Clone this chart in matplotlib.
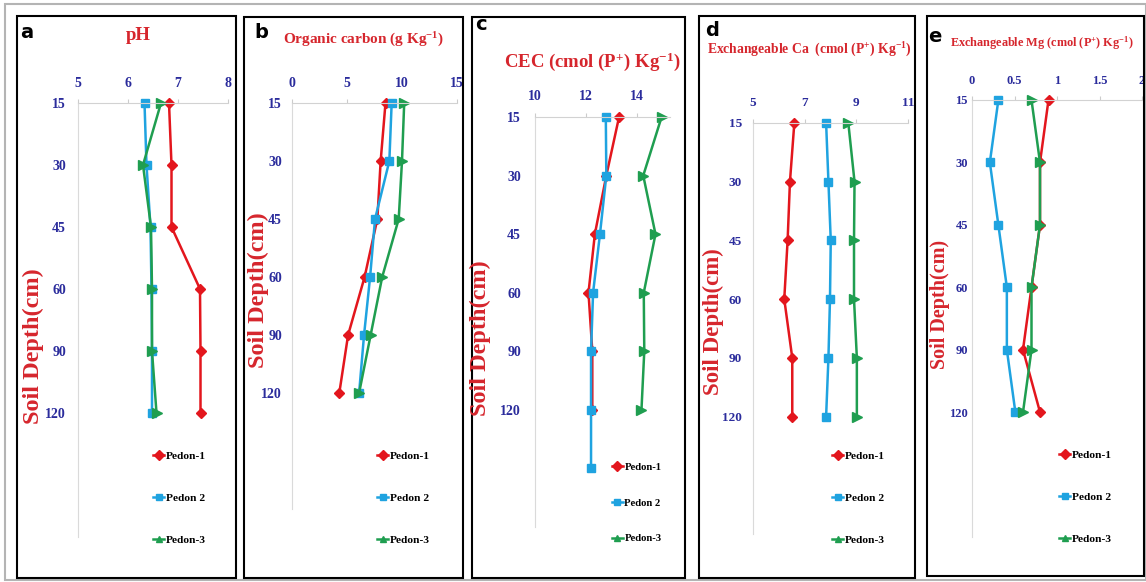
import matplotlib.pyplot as plt
from matplotlib.lines import Line2D
from matplotlib.patches import Rectangle

plt.rcParams['font.family'] = 'Liberation Serif'
plt.rcParams['font.weight'] = 'bold'
plt.rcParams['mathtext.fontset'] = 'custom'
plt.rcParams['mathtext.rm'] = 'Liberation Serif:bold'
plt.rcParams['mathtext.bf'] = 'Liberation Serif:bold'
plt.rcParams['mathtext.it'] = 'Liberation Serif:bold:italic'

# depth categories (cm), shared by all panels
depth_labels = ["15", "30", "45", "60", "90", "120"]
pedon_names = ["Pedon-1", "Pedon 2", "Pedon-3"]

# a: pH
ph_p1 = [6.82, 6.87, 6.87, 7.44, 7.45, 7.45]
ph_p2 = [6.33, 6.37, 6.45, 6.47, 6.48, 6.48]
ph_p3 = [6.66, 6.30, 6.46, 6.48, 6.48, 6.57]

# b: organic carbon (g/kg)
oc_p1 = [8.5, 8.06, 7.76, 6.6, 5.1, 4.3]
oc_p2 = [9.06, 8.85, 7.55, 7.1, 6.55, 6.1]
oc_p3 = [10.2, 10.0, 9.7, 8.2, 7.15, 6.1]

# c: CEC (pedon 2 has one extra point below 120 cm in the source)
cec_p1 = [13.3, 12.8, 12.35, 12.1, 12.25, 12.25]
cec_p2 = [12.78, 12.8, 12.55, 12.28, 12.2, 12.2, 12.2]
cec_p3 = [14.97, 14.25, 14.73, 14.27, 14.29, 14.18]

# d: exchangeable Ca
ca_p1 = [6.6, 6.43, 6.34, 6.21, 6.52, 6.52]
ca_p2 = [7.83, 7.92, 8.01, 7.98, 7.92, 7.83]
ca_p3 = [8.69, 8.93, 8.91, 8.91, 9.02, 9.02]

# e: exchangeable Mg
mg_p1 = [0.90, 0.80, 0.80, 0.70, 0.60, 0.80]
mg_p2 = [0.31, 0.21, 0.31, 0.41, 0.41, 0.51]
mg_p3 = [0.70, 0.80, 0.80, 0.70, 0.70, 0.60]

W, H = 1146, 582
RED = '#e3161d'
BLUE = '#1fa3e0'
GREEN = '#1f9e50'
NAVY = '#2b2c9c'
TITLE_RED = '#d6262d'

styles = [(RED, 'D', 5.5), (BLUE, 's', 6), (GREEN, '>', 7)]
legend_markers = ['D', 's', '^']

fig = plt.figure(figsize=(W / 100, H / 100), dpi=100)


def fx(x):
    return x / W


def fy(y):
    return 1 - y / H


# outer frame and panel boxes
fig.patches.append(Rectangle((fx(5), fy(580)), fx(1141), 576 / H, transform=fig.transFigure,
                             fill=False, ec='#b4b4b4', lw=1.5))
for (x0, y0, x1, y1) in [(17, 16, 236, 578), (244, 17, 463, 578), (472, 17, 685, 578),
                         (699, 16, 915, 578), (927, 16, 1144, 576)]:
    fig.patches.append(Rectangle((fx(x0), fy(y1)), fx(x1 - x0), (y1 - y0) / H,
                                 transform=fig.transFigure, fill=False, ec='black', lw=1.5))

# pads given in pixels, converted to points below
panels = [
    dict(series=[ph_p1, ph_p2, ph_p3], box=(78, 103, 228, 537), xlim=(5, 8),
         xticks=[5, 6, 7, 8], xtl=["5", "6", "7", "8"], fs=10, xpad=12, ypad=12,
         letter='a', lpos=(20, 33), title='pH', tpos=(138, 35), tfs=13.5,
         ylab=(33, 346), yfs=17.5, leg=(153, 498), lsp=2.85, lfs=8.2),
    dict(series=[oc_p1, oc_p2, oc_p3], box=(292, 103, 457, 509), xlim=(0, 15),
         xticks=[0, 5, 10, 15], xtl=["0", "5", "10", "15"], fs=10, xpad=12, ypad=10,
         letter='b', lpos=(254, 33), title='Organic carbon (g Kg$^{-1}$)', tpos=(364, 40), tfs=11,
         ylab=(258, 290), yfs=17.5, leg=(377, 498), lsp=2.85, lfs=8.2),
    dict(series=[cec_p1, cec_p2, cec_p3], box=(535, 117, 670, 527), xlim=(10, 15.3),
         xticks=[10, 12, 14], xtl=["10", "12", "14"], fs=10, xpad=13, ypad=14,
         letter='c', lpos=(475, 25), title='CEC (cmol (P$^{+}$) Kg$^{-1}$)', tpos=(592, 62), tfs=13.5,
         ylab=(480, 338), yfs=17.5, leg=(612, 503), lsp=2.45, lfs=7.7),
    dict(series=[ca_p1, ca_p2, ca_p3], box=(753, 123, 908, 534), xlim=(5, 11),
         xticks=[5, 7, 9, 11], xtl=["5", "7", "9", "11"], fs=9.5, xpad=13, ypad=11,
         letter='d', lpos=(705, 31), title='Exchangeable Ca  (cmol (P$^{+}$) Kg$^{-1}$)', tpos=(809, 50),
         tfs=9.8, ylab=(713, 322), yfs=16.5, leg=(832, 498), lsp=2.85, lfs=8.2),
    dict(series=[mg_p1, mg_p2, mg_p3], box=(972, 100, 1142, 537), xlim=(0, 2),
         xticks=[0, 0.5, 1, 1.5, 2], xtl=["0", "0.5", "1", "1.5", "2"], fs=9, xpad=12, ypad=4,
         letter='e', lpos=(928, 36), title='Exchangeable Mg (cmol (P$^{+}$) Kg$^{-1}$)', tpos=(1042, 43),
         tfs=8.8, ylab=(940, 304), yfs=14.5, leg=(1059, 497), lsp=2.8, lfs=8.2),
]

for p in panels:
    x0, y0, x1, y1 = p['box']
    ax = fig.add_axes([fx(x0), fy(y1), fx(x1 - x0), (y1 - y0) / H])
    ax.patch.set_alpha(0)
    for vals, (c, m, ms) in zip(p['series'], styles):
        ax.plot(vals, range(len(vals)), color=c, marker=m, ms=ms, lw=1.8, clip_on=False)
    ax.set_xlim(*p['xlim'])
    ax.set_ylim(7, 0)
    ax.set_xticks(p['xticks'])
    ax.set_xticklabels(p['xtl'])
    ax.set_yticks(range(len(depth_labels)))
    ax.set_yticklabels(depth_labels)
    ax.xaxis.tick_top()
    for s in ['right', 'bottom']:
        ax.spines[s].set_visible(False)
    ax.spines['top'].set_color('#d2d2d2')
    ax.spines['left'].set_color('#dadada')
    ax.tick_params(axis='x', colors='#cccccc', length=3, pad=p['xpad'] * 0.72 - 3 * 0.72,
                   labelcolor=NAVY, labelsize=p['fs'])
    ax.tick_params(axis='y', length=0, pad=p['ypad'] * 0.72, labelcolor=NAVY, labelsize=p['fs'])

    fig.text(fx(p['lpos'][0]), fy(p['lpos'][1]), p['letter'], family='DejaVu Sans',
             weight='heavy', fontsize=14, ha='left', va='center')
    fig.text(fx(p['tpos'][0]), fy(p['tpos'][1]), p['title'], color=TITLE_RED,
             fontsize=p['tfs'], ha='center', va='center')
    fig.text(fx(p['ylab'][0]), fy(p['ylab'][1]), 'Soil Depth(cm)', color=TITLE_RED,
             fontsize=p['yfs'], rotation=90, ha='center', va='center')

    handles = [Line2D([], [], color=c, marker=m, ms=5, lw=1.8)
               for (c, _, _), m in zip(styles, legend_markers)]
    ax.legend(handles, pedon_names, loc='center left',
              bbox_to_anchor=(fx(p['leg'][0]), fy(p['leg'][1])), bbox_transform=fig.transFigure,
              frameon=False, fontsize=p['lfs'], handlelength=1.0, handletextpad=0.15,
              labelspacing=p['lsp'], borderpad=0, borderaxespad=0)

fig.savefig('out.png', dpi=100)
